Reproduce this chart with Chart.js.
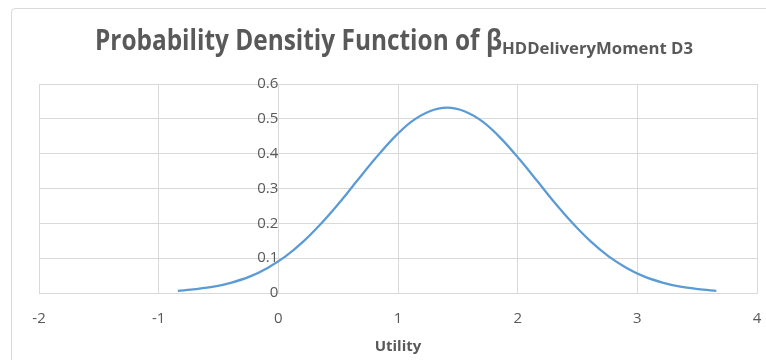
<!DOCTYPE html>
<html>
<head>
<meta charset="utf-8">
<script src="https://cdn.jsdelivr.net/npm/chart.js@4.4.1/dist/chart.umd.min.js"></script>
<style>
  html, body { margin: 0; padding: 0; background: #fff; overflow: hidden; }
  #wrap { position: relative; width: 766px; height: 360px; }
  #frame { position: absolute; left: 11px; top: 8px; width: 800px; height: 400px;
           border: 1px solid #d9d9d9; border-radius: 4px; box-sizing: border-box; }
  canvas { position: absolute; left: 0; top: 0; }
  .t { position: absolute; white-space: nowrap; color: #595959; font-family: "Open Sans", "Liberation Sans", sans-serif;
       font-weight: bold; line-height: 1; transform-origin: 0 0; }
  #tmain { font-size: 28px; left: 95px; top: 25px; }
  #tsub { font-size: 16px; left: 502px; top: 40px; }
</style>
</head>
<body>
<div id="wrap">
  <div id="frame"></div>
  <canvas id="c" width="766" height="360"></canvas>
  <span class="t" id="tmain">Probability Densitiy Function of β</span>
  <span class="t" id="tsub">HDDeliveryMoment D3</span>
</div>
<script>
// Values
const utility = [-0.84, -0.69, -0.54, -0.39, -0.24, -0.09, 0.06, 0.21, 0.36, 0.51, 0.66,
                 0.81, 0.96, 1.11, 1.26, 1.41, 1.56, 1.71, 1.86, 2.01, 2.16, 2.31,
                 2.46, 2.61, 2.76, 2.91, 3.06, 3.21, 3.36, 3.51, 3.66];
const density = [0.006, 0.011, 0.018, 0.030, 0.047, 0.072, 0.105, 0.148, 0.200, 0.259, 0.323,
                 0.386, 0.444, 0.491, 0.521, 0.532, 0.521, 0.491, 0.444, 0.386, 0.323, 0.259,
                 0.200, 0.148, 0.105, 0.072, 0.047, 0.030, 0.018, 0.011, 0.006];
const xTicks = [-2, -1, 0, 1, 2, 3, 4];
const yTicks = [0, 0.1, 0.2, 0.3, 0.4, 0.5, 0.6];
const xTitle = 'Utility';

// fit title spans to measured widths of the reference
function fit(id, w) {
  const el = document.getElementById(id);
  const r = el.getBoundingClientRect();
  el.style.transform = 'scaleX(' + (w / r.width) + ')';
}
fit('tmain', 407);
fit('tsub', 191);

const grey = '#d9d9d9';
const txt = '#595959';
const font = { family: '"Open Sans", "Liberation Sans", sans-serif', size: 15 };

new Chart(document.getElementById('c'), {
  type: 'line',
  data: {
    datasets: [{
      data: utility.map((u, i) => ({ x: u, y: density[i] })),
      borderColor: '#5B9BD5',
      borderWidth: 2.25,
      pointRadius: 0,
      fill: false,
      cubicInterpolationMode: 'monotone'
    }]
  },
  options: {
    responsive: false,
    animation: false,
    events: [],
    layout: { padding: { top: 84, left: 39, right: 9, bottom: 0 } },
    plugins: { legend: { display: false }, tooltip: { enabled: false }, title: { display: false } },
    scales: {
      x: {
        type: 'linear',
        min: xTicks[0], max: xTicks[xTicks.length - 1],
        afterBuildTicks: s => { s.ticks = xTicks.map(v => ({ value: v })); },
        afterFit: s => { s.height = 67; s.paddingLeft = 0; s.paddingRight = 0; },
        grid: { color: grey, lineWidth: 1, drawTicks: false },
        border: { color: grey, width: 1 },
        ticks: { color: txt, font: font, padding: 17, maxRotation: 0 },
        title: { display: true, text: xTitle, color: txt,
                 font: { family: font.family, size: 15, weight: 'bold' },
                 padding: { top: 0, bottom: 4 } }
      },
      y: {
        type: 'linear',
        position: { x: 0 },
        min: yTicks[0], max: yTicks[yTicks.length - 1],
        afterBuildTicks: s => { s.ticks = yTicks.map(v => ({ value: v })); },
        afterFit: s => { s.width = 0; s.paddingTop = 0; s.paddingBottom = 0; },
        grid: { color: grey, lineWidth: 1, drawTicks: false },
        border: { color: grey, width: 1 },
        ticks: { color: txt, font: font, padding: 18, callback: v => String(v) }
      }
    }
  }
});
</script>
</body>
</html>
